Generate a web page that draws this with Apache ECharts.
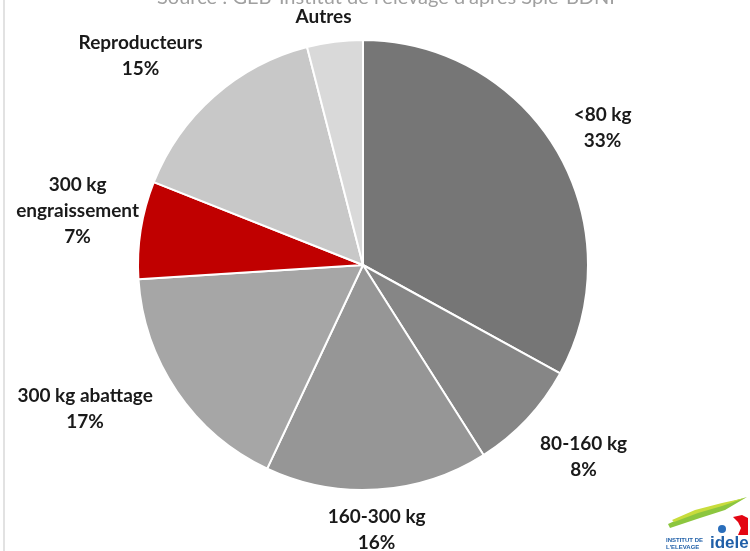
<!DOCTYPE html>
<html>
<head>
<meta charset="utf-8">
<script src="https://cdn.jsdelivr.net/npm/echarts@6/dist/echarts.min.js"></script>
<style>html,body{margin:0;padding:0;background:#fff}#c{width:750px;height:551px}</style>
</head>
<body>
<div id="c"></div>
<script>
var categories = ['<80 kg', '80-160 kg', '160-300 kg', '300 kg abattage', '300 kg\nengraissement', 'Reproducteurs', 'Autres'];
var shares = [33, 8, 16, 17, 7, 15, 4];
var showPct = [true, true, true, true, true, true, false];
var sliceColors = ['#767676', '#868686', '#969696', '#a6a6a6', '#c00000', '#c8c8c8', '#d9d9d9'];
var labelGap = [51, 68, 40, 88, 65, 81, 26];
var labelNudge = [[2, 3], [7, -9], [-3, 0], [-19, -32], [1, -9], [-20, 20], [-8, 1]];
var sourceText = "Source : GEB-Institut de l'élevage d'après Spie-BDNI";

var chart = echarts.init(document.getElementById('c'), null, {renderer: 'canvas'});
var data = categories.map(function (n, i) {
  return {
    name: n, value: shares[i],
    itemStyle: {color: sliceColors[i]},
    labelLine: {show: false, length: labelGap[i], length2: 0}
  };
});
chart.setOption({
  animation: false,
  backgroundColor: '#fff',
  graphic: [
    {type: 'line', shape: {x1: 4, y1: 0, x2: 4, y2: 551}, style: {stroke: '#d9d9d9', lineWidth: 1.5}},
    {type: 'text', x: 386, y: -12.5, style: {text: sourceText, fill: '#a0a0a0', font: '20px Lato, sans-serif', align: 'center'}},
    {type: 'polygon', shape: {points: [[668, 524], [690, 514], [720, 505], [747, 497], [725, 510], [700, 518], [670, 528]]}, style: {fill: '#8cc63f'}},
    {type: 'polygon', shape: {points: [[672, 520], [695, 510], [722, 503], [745, 498], [722, 506], [698, 513], [674, 522]]}, style: {fill: '#c8dc3c'}},
    {type: 'polygon', shape: {points: [[733, 517], [742, 515], [748, 518], [748, 535], [738, 535], [741, 528], [738, 522]]}, style: {fill: '#e30613'}},
    {type: 'circle', shape: {cx: 722, cy: 529, r: 4}, style: {fill: '#2a6ebb'}},
    {type: 'text', x: 666, y: 537, style: {text: 'INSTITUT DE\nL\'ELEVAGE', fill: '#1f5fa8', font: 'bold 6px "Liberation Sans Narrow", "Liberation Sans", sans-serif', lineHeight: 7}},
    {type: 'text', x: 710, y: 535, style: {text: 'idele', fill: '#1f5fa8', font: 'bold 17px "Liberation Sans Narrow", "Liberation Sans", sans-serif'}}
  ],
  series: [{
    type: 'pie',
    center: [363, 265],
    radius: 225,
    startAngle: 90,
    clockwise: true,
    avoidLabelOverlap: false,
    minShowLabelAngle: 0,
    itemStyle: {borderColor: '#ffffff', borderWidth: 2},
    emphasis: {disabled: true},
    label: {
      show: true,
      position: 'outside',
      distanceToLabelLine: 0,
      color: '#1a1a1a',
      fontFamily: 'Lato, sans-serif',
      fontWeight: 'bold',
      fontSize: 19,
      lineHeight: 26,
      formatter: function (p) {
        return showPct[p.dataIndex] ? p.name + '\n' + p.value + '%' : p.name;
      }
    },
    labelLine: {show: false, length2: 0},
    labelLayout: function (p) {
      var n = labelNudge[p.dataIndex];
      return {align: 'center', verticalAlign: 'middle', dx: n[0], dy: n[1]};
    },
    data: data
  }]
});
</script>
</body>
</html>
